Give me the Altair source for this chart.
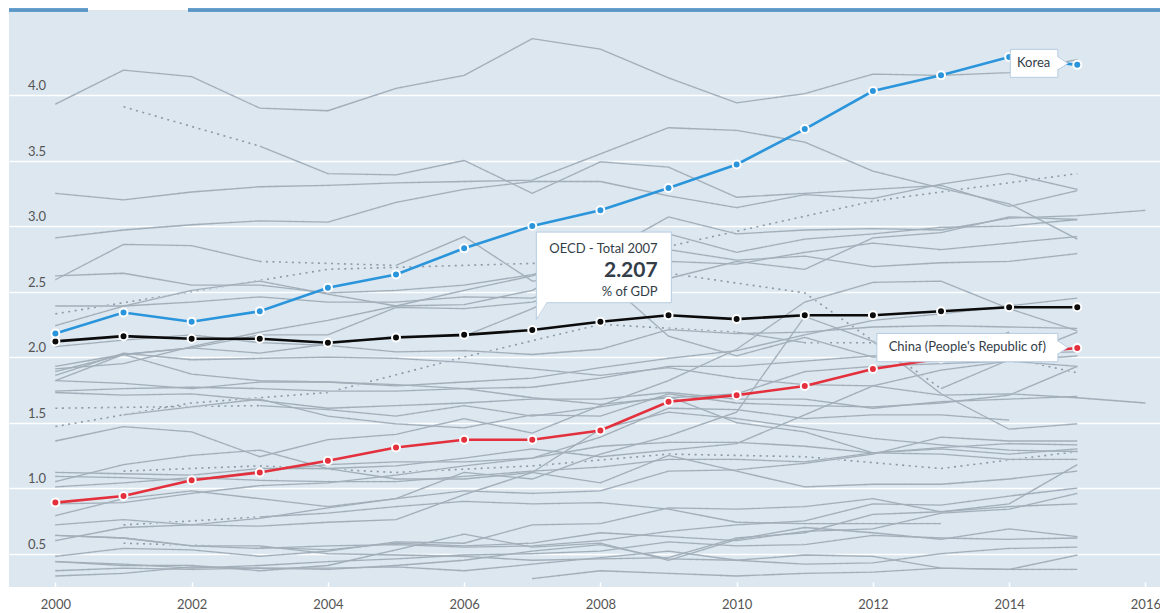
import altair as alt
import pandas as pd

N = None
YEARS = list(range(2000, 2017))
X_TICKS = list(range(2000, 2017, 2))
Y_TICKS = [0.5, 1.0, 1.5, 2.0, 2.5, 3.0, 3.5, 4.0]

# Highlighted series (GERD, % of GDP)
korea = [2.18, 2.34, 2.27, 2.35, 2.53, 2.63, 2.83, 3.00, 3.12, 3.29, 3.47, 3.74, 4.03, 4.15, 4.29, 4.23, N]
china = [0.89, 0.94, 1.06, 1.12, 1.21, 1.31, 1.37, 1.37, 1.44, 1.66, 1.71, 1.78, 1.91, 1.99, 2.02, 2.07, N]
oecd = [2.12, 2.16, 2.14, 2.14, 2.11, 2.15, 2.17, 2.207, 2.27, 2.32, 2.29, 2.32, 2.32, 2.35, 2.38, 2.38, N]

# Background (grey) series
israel = [3.93, 4.19, 4.14, 3.90, 3.88, 4.05, 4.15, 4.43, 4.35, 4.13, 3.94, 4.01, 4.16, 4.15, 4.17, 4.27, N]
sweden = [N, 3.91, N, 3.61, 3.40, 3.39, 3.50, 3.25, 3.49, 3.45, 3.22, 3.25, 3.28, 3.31, 3.15, 3.27, N]
finland = [3.25, 3.20, 3.26, 3.30, 3.31, 3.33, 3.34, 3.35, 3.55, 3.75, 3.73, 3.64, 3.42, 3.29, 3.17, 2.90, N]
japan = [2.91, 2.97, 3.01, 3.04, 3.03, 3.18, 3.28, 3.34, 3.34, 3.23, 3.14, 3.24, 3.21, 3.32, 3.40, 3.28, N]
switzerland = [2.33, N, N, N, 2.67, N, N, N, 2.73, N, N, N, 3.19, N, N, 3.40, N]
denmark = [2.24, 2.39, 2.51, 2.58, 2.48, 2.39, 2.40, 2.51, 2.78, 3.07, 2.94, 2.97, 2.98, 2.97, 3.06, 3.08, 3.12]
iceland = [2.59, 2.86, 2.85, 2.73, N, 2.70, 2.92, 2.58, 2.62, 2.64, N, 2.49, N, 1.76, 1.98, 2.19, N]
usa = [2.62, 2.64, 2.55, 2.55, 2.49, 2.51, 2.55, 2.63, 2.77, 2.82, 2.74, 2.77, 2.69, 2.72, 2.73, 2.79, N]
germany = [2.39, 2.39, 2.42, 2.46, 2.42, 2.42, 2.46, 2.45, 2.60, 2.73, 2.71, 2.80, 2.87, 2.82, 2.87, 2.92, N]
austria = [1.89, 2.02, 2.07, 2.17, 2.17, 2.38, 2.37, 2.42, 2.57, 2.60, 2.73, 2.67, 2.91, 2.95, 3.07, 3.05, N]
taipei = [1.91, 1.95, 2.08, 2.19, 2.28, 2.39, 2.51, 2.62, 2.78, 2.94, 2.80, 2.90, 2.94, 2.99, 3.00, 3.05, N]
france = [2.08, 2.13, 2.17, 2.11, 2.09, 2.04, 2.05, 2.02, 2.06, 2.21, 2.18, 2.19, 2.23, 2.24, 2.23, 2.22, N]
belgium = [1.93, 2.02, 1.87, 1.82, 1.81, 1.78, 1.81, 1.84, 1.92, 1.99, 2.05, 2.17, 2.28, 2.33, 2.39, 2.45, N]
slovenia = [1.36, 1.47, 1.43, 1.24, 1.37, 1.41, 1.53, 1.42, 1.63, 1.82, 2.06, 2.42, 2.57, 2.58, 2.37, 2.20, N]
netherlands = [1.82, 1.80, 1.76, 1.81, 1.81, 1.79, 1.76, 1.69, 1.64, 1.69, 1.72, 1.89, 1.93, 1.95, 1.97, 2.01, N]
uk = [1.73, 1.71, 1.72, 1.67, 1.61, 1.63, 1.65, 1.68, 1.68, 1.73, 1.68, 1.68, 1.61, 1.66, 1.68, 1.70, N]
canada = [1.86, 2.03, 1.98, 1.99, 2.00, 1.99, 1.96, 1.91, 1.86, 1.92, 1.84, 1.79, 1.78, 1.71, 1.72, 1.69, 1.65]
eu28 = [1.74, 1.76, 1.77, 1.76, 1.74, 1.74, 1.76, 1.77, 1.84, 1.93, 1.93, 1.97, 2.01, 2.02, 2.03, 2.04, N]
norway = [N, 1.56, 1.62, 1.68, 1.55, 1.49, 1.46, 1.56, 1.55, 1.72, 1.65, 1.63, 1.62, 1.65, 1.71, 1.93, N]
luxembourg = [1.61, N, N, 1.63, 1.60, 1.55, 1.63, 1.55, 1.62, 1.70, 1.50, 1.43, 1.27, 1.30, 1.26, 1.30, N]
czech = [1.12, 1.11, 1.10, 1.15, 1.15, 1.17, 1.23, 1.30, 1.24, 1.29, 1.34, 1.56, 1.78, 1.90, 1.97, 1.93, N]
estonia = [0.60, 0.70, 0.72, 0.77, 0.85, 0.92, 1.12, 1.07, 1.26, 1.40, 1.58, 2.31, 2.12, 1.72, 1.45, 1.49, N]
ireland = [1.09, 1.08, 1.06, 1.13, 1.18, 1.20, 1.20, 1.23, 1.39, 1.61, 1.60, 1.53, 1.56, 1.56, 1.52, N, N]
hungary = [0.79, 0.92, 0.98, 0.92, 0.86, 0.92, 0.98, 0.96, 0.98, 1.13, 1.14, 1.19, 1.26, 1.39, 1.36, 1.36, N]
spain = [0.88, 0.89, 0.96, 1.02, 1.04, 1.10, 1.17, 1.23, 1.32, 1.35, 1.35, 1.32, 1.27, 1.26, 1.22, 1.22, N]
italy = [1.01, 1.04, 1.08, 1.06, 1.05, 1.05, 1.09, 1.13, 1.16, 1.22, 1.22, 1.20, 1.27, 1.31, 1.34, 1.33, N]
portugal = [0.72, 0.76, 0.72, 0.71, 0.74, 0.76, 0.95, 1.12, 1.45, 1.58, 1.53, 1.46, 1.38, 1.33, 1.29, 1.28, N]
new_zealand = [N, 1.13, N, 1.17, N, 1.12, N, 1.17, N, 1.26, N, 1.24, N, 1.15, N, 1.28, N]
australia = [1.47, N, 1.65, N, 1.73, N, 2.00, N, 2.25, N, 2.19, 2.11, N, 2.11, N, 1.88, N]
russia = [1.05, 1.18, 1.25, 1.29, 1.15, 1.07, 1.07, 1.12, 1.04, 1.25, 1.13, 1.01, 1.03, 1.03, 1.07, 1.13, N]
poland = [0.64, 0.62, 0.56, 0.54, 0.56, 0.57, 0.55, 0.56, 0.60, 0.67, 0.72, 0.75, 0.88, 0.87, 0.94, 1.00, N]
turkey = [0.48, 0.54, 0.53, 0.48, 0.52, 0.59, 0.58, 0.72, 0.73, 0.85, 0.84, 0.86, 0.92, 0.82, 0.86, 0.88, N]
greece = [N, 0.58, N, 0.55, 0.53, 0.58, 0.56, 0.58, 0.66, 0.63, 0.60, 0.67, 0.69, 0.81, 0.84, 0.96, N]
slovakia = [0.64, 0.62, 0.56, 0.56, 0.50, 0.49, 0.48, 0.45, 0.46, 0.47, 0.62, 0.66, 0.80, 0.82, 0.88, 1.18, N]
mexico = [0.33, 0.35, 0.40, 0.39, 0.39, 0.40, 0.37, 0.42, 0.47, 0.52, 0.45, 0.42, 0.43, 0.50, 0.54, 0.55, N]
chile = [N, N, N, N, N, N, N, 0.31, 0.37, 0.35, 0.33, 0.35, 0.36, 0.39, 0.38, 0.38, N]
argentina = [0.44, 0.42, 0.39, 0.41, 0.44, 0.46, 0.49, 0.50, 0.52, 0.59, 0.56, 0.57, 0.64, 0.62, 0.61, 0.62, N]
romania = [0.37, 0.39, 0.38, 0.39, 0.38, 0.41, 0.45, 0.52, 0.57, 0.46, 0.45, 0.49, 0.48, 0.39, 0.38, 0.49, N]
latvia = [0.44, 0.41, 0.41, 0.37, 0.41, 0.53, 0.65, 0.55, 0.58, 0.45, 0.61, 0.70, 0.66, 0.61, 0.69, 0.63, N]
south_africa = [N, 0.72, N, 0.78, 0.81, 0.86, 0.90, 0.88, 0.89, 0.84, 0.74, 0.73, 0.73, 0.73, N, N, N]
singapore = [1.82, 2.02, 2.07, 2.03, 2.10, 2.16, 2.16, 2.37, 2.62, 2.16, 2.01, 2.15, 2.00, 2.01, 2.19, N, N]

GRAY = {
    "Israel": israel, "Sweden": sweden, "Finland": finland, "Japan": japan,
    "Switzerland": switzerland, "Denmark": denmark, "Iceland": iceland,
    "United States": usa, "Germany": germany, "Austria": austria,
    "Chinese Taipei": taipei, "France": france, "Belgium": belgium,
    "Slovenia": slovenia, "Netherlands": netherlands, "United Kingdom": uk,
    "Canada": canada, "European Union (28 countries)": eu28, "Norway": norway,
    "Luxembourg": luxembourg, "Czech Republic": czech, "Estonia": estonia,
    "Ireland": ireland, "Hungary": hungary, "Spain": spain, "Italy": italy,
    "Portugal": portugal, "New Zealand": new_zealand, "Australia": australia,
    "Russia": russia, "Poland": poland, "Turkey": turkey, "Greece": greece,
    "Slovak Republic": slovakia, "Mexico": mexico, "Chile": chile,
    "Argentina": argentina, "Romania": romania, "Latvia": latvia,
    "South Africa": south_africa, "Singapore": singapore,
}
HIGHLIGHT = {"OECD - Total": oecd, "Korea": korea, "China (People's Republic of)": china}
HL_COLORS = ["#0b0b0b", "#2b95db", "#e3303c"]

# ---- build tables ----
rows = []
for name, vals in GRAY.items():
    seg, prev = 0, False
    for yr, v in zip(YEARS, vals):
        if v is None:
            prev = False
            continue
        if not prev:
            seg += 1
        rows.append({"country": name, "year": yr, "value": v, "seg": f"{name}-{seg}"})
        prev = True
gray_df = pd.DataFrame(rows)

hl_rows = []
for name, vals in HIGHLIGHT.items():
    for yr, v in zip(YEARS, vals):
        if v is not None:
            hl_rows.append({"country": name, "year": yr, "value": v})
hl_df = pd.DataFrame(hl_rows)

korea_anchor = pd.DataFrame({"year": [2015], "value": [korea[15]], "label": ["Korea"]})
china_anchor = pd.DataFrame({"year": [2015], "value": [china[15]], "label": ["China (People's Republic of)"]})
tip_anchor = pd.DataFrame({"year": [2007], "value": [oecd[7]],
                           "head": ["OECD - Total 2007"], "num": [f"{oecd[7]:.3f}"], "unit": ["% of GDP"]})
ylab_df = pd.DataFrame({"value": Y_TICKS, "label": [f"{v:.1f}" for v in Y_TICKS]})

FONT = "Lato"
BG = "#dce7f0"
GRAY_C = "#a2aeb8"
DOT_C = "#8d9aa5"
BORDER = "#b7cde2"
TXT = "#333d47"

PLOT_W = 1151
PLOT_H = 577
x_scale = alt.Scale(domain=[1999.319, 1999.319 + PLOT_W / 68.125], nice=False, zero=False)
y_scale = alt.Scale(domain=[0.246, 0.246 + PLOT_H / 131.06], nice=False, zero=False)
x_axis = alt.Axis(values=X_TICKS, format="d", title=None, domain=False, grid=False,
                  ticks=True, tickColor="white", tickSize=5, tickWidth=1.5, offset=-5,
                  labelPadding=11, labelFont=FONT, labelFontSize=13, labelColor="#555555",
                  labelFlush=False, labelOverlap=False)
y_axis = alt.Axis(values=Y_TICKS, title=None, domain=False, ticks=False, labels=False,
                  grid=True, gridColor="white", gridWidth=1.5, gridOpacity=1)


def X():
    return alt.X("year:Q", scale=x_scale, axis=x_axis)


def Y():
    return alt.Y("value:Q", scale=y_scale, axis=y_axis)


dotted = alt.Chart(gray_df).mark_line(color=DOT_C, strokeWidth=1.6, strokeDash=[2, 4.5]).encode(
    x=X(), y=Y(), detail="country:N", order="year:Q")
solid_bg = alt.Chart(gray_df).mark_line(color=BG, strokeWidth=2.2).encode(
    x=X(), y=Y(), detail="seg:N", order="year:Q")
solid = alt.Chart(gray_df).mark_line(color=GRAY_C, strokeWidth=1.3).encode(
    x=X(), y=Y(), detail="seg:N", order="year:Q")

color = alt.Color("country:N", scale=alt.Scale(domain=list(HIGHLIGHT.keys()), range=HL_COLORS), legend=None)
hl_lines = alt.Chart(hl_df).mark_line(strokeWidth=2.6).encode(
    x=X(), y=Y(), color=color, detail="country:N", order="year:Q")
hl_points = alt.Chart(hl_df).mark_point(filled=True, size=64, stroke="white", strokeWidth=2, opacity=1).encode(
    x=X(), y=Y(), color=color)

PTR = "M-1,-1.3 L1,0 L-1,1.3 Z"
TAIL = "M-1,-1.62 L-1,1.62 L1,-1.62 Z"


def label_box(anchor, x0, x1, y0, y1, tdx, tdy):
    ptr = alt.Chart(anchor).mark_point(shape=PTR, size=100, filled=True, fill="white", stroke=BORDER,
                                       strokeWidth=1, opacity=1, xOffset=x1 + 5, yOffset=tdy).encode(x=X(), y=Y())
    box = alt.Chart(anchor).mark_rect(fill="white", stroke=BORDER, strokeWidth=1,
                                      xOffset=x0, x2Offset=x1, yOffset=y0, y2Offset=y1).encode(
        x=X(), x2="year", y=Y(), y2="value")
    cover = alt.Chart(anchor).mark_point(shape=PTR, size=100, filled=True, fill="white", strokeWidth=0,
                                         opacity=1, xOffset=x1 + 4, yOffset=tdy).encode(x=X(), y=Y())
    txt = alt.Chart(anchor).mark_text(font=FONT, fontSize=13, color=TXT, align="center", baseline="middle",
                                      dx=tdx, dy=tdy).encode(x=X(), y=Y(), text="label:N")
    return [ptr, box, cover, txt]


korea_lbl = label_box(korea_anchor, -67, -19.4, -15.5, 12.5, -43.7, -1.5)
china_lbl = label_box(china_anchor, -200.4, -19.4, -14.5, 13.8, -110, -0.5)

tail = alt.Chart(tip_anchor).mark_point(shape=TAIL, size=106, filled=True, fill="white", stroke=BORDER,
                                        strokeWidth=1, opacity=1, xOffset=9.25, yOffset=-18.95).encode(x=X(), y=Y())
tip_box = alt.Chart(tip_anchor).mark_rect(fill="white", stroke=BORDER, strokeWidth=1,
                                          xOffset=4.1, x2Offset=139.1, yOffset=-97.9, y2Offset=-27.3).encode(
    x=X(), x2="year", y=Y(), y2="value")
tail_cover = alt.Chart(tip_anchor).mark_point(shape=TAIL, size=90, filled=True, fill="white", strokeWidth=0,
                                              opacity=1, xOffset=9.9, yOffset=-20.5).encode(x=X(), y=Y())
tip_head = alt.Chart(tip_anchor).mark_text(font=FONT, fontSize=13, color=TXT, align="right", baseline="middle",
                                           dx=125.4, dy=-80.6).encode(x=X(), y=Y(), text="head:N")
tip_num = alt.Chart(tip_anchor).mark_text(font=FONT, fontSize=21, fontWeight="bold", color=TXT, align="right",
                                          baseline="middle", dx=125.4, dy=-58.9).encode(x=X(), y=Y(), text="num:N")
tip_unit = alt.Chart(tip_anchor).mark_text(font=FONT, fontSize=13, color=TXT, align="right", baseline="middle",
                                           dx=125.4, dy=-37.9).encode(x=X(), y=Y(), text="unit:N")

ylabels = alt.Chart(ylab_df).mark_text(font=FONT, fontSize=13, color="#555555", align="left",
                                       baseline="middle", dy=-9).encode(
    x=alt.value(19), y=Y(), text="label:N")

top_a = alt.Chart(ylab_df).mark_rule(color="#5a96c8", strokeWidth=2.5).encode(
    x=alt.value(0), x2=alt.value(79), y=alt.value(0))
top_b = alt.Chart(ylab_df).mark_rule(color="#5a96c8", strokeWidth=2.5).encode(
    x=alt.value(179), x2=alt.value(PLOT_W), y=alt.value(0))

chart = alt.layer(
    dotted, solid_bg, solid, hl_lines, hl_points,
    *korea_lbl, *china_lbl,
    tail, tip_box, tail_cover, tip_head, tip_num, tip_unit,
    ylabels, top_a, top_b,
).properties(
    width=PLOT_W, height=PLOT_H,
    autosize=alt.AutoSizeParams(type="none"),
    padding={"left": 1, "top": 2, "right": 0, "bottom": 26},
).configure_view(fill=BG, stroke=None)

chart.save("out.html", embed_options={"renderer": "svg", "actions": False})
